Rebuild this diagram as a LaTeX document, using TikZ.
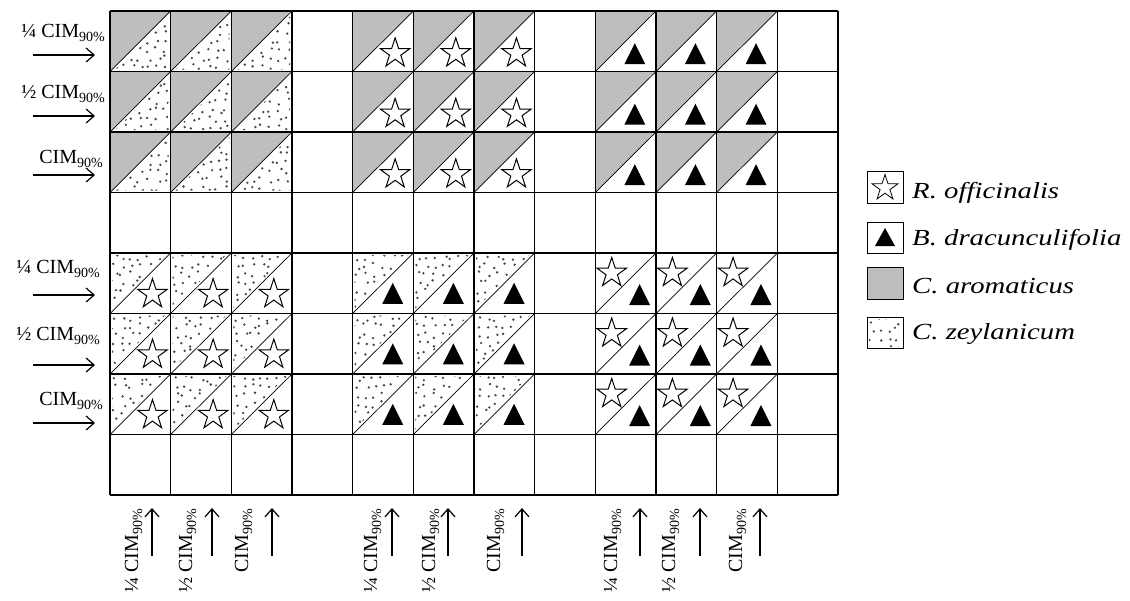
\documentclass[tikz,border=0pt]{standalone}
\usepackage{fontspec}
\setmainfont{Liberation Serif}
\usepackage{graphicx}
\usetikzlibrary{shapes.geometric,arrows.meta}
\definecolor{cellgray}{RGB}{190,190,190}
\definecolor{dotcol}{RGB}{70,70,70}
\newcommand\cellW{60.667}
\newcommand\cellH{60.5}
\newcommand\subp{\raisebox{-4pt}{\fontsize{14}{14}\selectfont 90\%}}
\newcommand\labA{\fontsize{20}{24}\selectfont ¼ CIM\subp}
\newcommand\labB{\fontsize{20}{24}\selectfont ½ CIM\subp}
\newcommand\labC{\fontsize{20}{24}\selectfont CIM\subp}
\newcommand\legtext[1]{\scalebox{1.25}[1]{\fontsize{23}{27}\selectfont\itshape #1}}
% jittered dot field: #1,#2 = top-left, #3 = side, #4 = number of dots per side
\newcommand\dotfield[4]{\foreach \ii in {1,...,#4}{\foreach \jj in {1,...,#4}{%
  \pgfmathsetmacro\dx{#1+(\ii-0.5)*#3/#4+3.2*rand}%
  \pgfmathsetmacro\dy{#2+(\jj-0.5)*#3/#4+3.2*rand}%
  \fill[dotcol] (\dx,\dy) circle (1.3);}}}
\newcommand\dotsUL[2]{\begin{scope}\clip (#1+2,#2+2) -- (#1+\cellW-5,#2+2) -- (#1+2,#2+\cellH-5) -- cycle; \dotfield{#1}{#2}{\cellW}{7}\end{scope}}
\newcommand\dotsLR[2]{\begin{scope}\clip (#1+\cellW-2,#2+5) -- (#1+\cellW-2,#2+\cellH-2) -- (#1+5,#2+\cellH-2) -- cycle; \dotfield{#1}{#2}{\cellW}{7}\end{scope}}
\newcommand\grayUL[2]{\fill[cellgray] (#1,#2) -- (#1+\cellW,#2) -- (#1,#2+\cellH) -- cycle;}
\newcommand\tri[2]{\fill[black] (#1-10.5,#2) -- (#1+10.5,#2) -- (#1,#2-21) -- cycle;}
\tikzset{
  starsym/.style={star, star points=5, star point ratio=2.6, draw=black, line width=1pt, fill=white, inner sep=0pt, minimum size=31pt},
  gridline/.style={line width=1.2pt, black},
  diag/.style={line width=0.7pt, black},
  arr/.style={line width=1.2pt, -{Straight Barb[length=8pt,width=14pt,line width=1.2pt]}},
  lab/.style={inner sep=0pt, anchor=base east},
  vlab/.style={inner sep=0pt, anchor=base east, rotate=90},
  legbox/.style={line width=1pt, black},
  legtxt/.style={inner sep=0pt, anchor=base west}
}
\begin{document}
\begin{tikzpicture}[x=1pt,y=-1pt]
\useasboundingbox (0,0) rectangle (1130,600);
\fill[white] (0,0) rectangle (1130,600);
\pgfmathsetseed{4711}
% ---- top block: rows 1-3
\foreach \c in {0,1,2}{\foreach \r in {0,1,2}{
  \pgfmathsetmacro\L{110+\c*\cellW}\pgfmathsetmacro\T{11+\r*\cellH}
  \grayUL{\L}{\T}
  \dotsLR{\L}{\T}
}}
\foreach \c in {4,5,6}{\foreach \r in {0,1,2}{
  \pgfmathsetmacro\L{110+\c*\cellW}\pgfmathsetmacro\T{11+\r*\cellH}
  \grayUL{\L}{\T}
  \node[starsym] (st\c\r) at (\L+0.7*\cellW,\T+0.7*\cellH) {};
}}
\foreach \c in {8,9,10}{\foreach \r in {0,1,2}{
  \pgfmathsetmacro\L{110+\c*\cellW}\pgfmathsetmacro\T{11+\r*\cellH}
  \grayUL{\L}{\T}
  \tri{\L+0.65*\cellW}{\T+0.88*\cellH}
}}
% ---- bottom block: rows 5-7
\foreach \c in {0,1,2}{\foreach \r in {4,5,6}{
  \pgfmathsetmacro\L{110+\c*\cellW}\pgfmathsetmacro\T{11+\r*\cellH}
  \dotsUL{\L}{\T}
  \node[starsym] (sb\c\r) at (\L+0.7*\cellW,\T+0.68*\cellH) {};
}}
\foreach \c in {4,5,6}{\foreach \r in {4,5,6}{
  \pgfmathsetmacro\L{110+\c*\cellW}\pgfmathsetmacro\T{11+\r*\cellH}
  \dotsUL{\L}{\T}
  \tri{\L+0.66*\cellW}{\T+0.84*\cellH}
}}
\foreach \c in {8,9,10}{\foreach \r in {4,5,6}{
  \pgfmathsetmacro\L{110+\c*\cellW}\pgfmathsetmacro\T{11+\r*\cellH}
  \node[starsym] (sr\c\r) at (\L+0.27*\cellW,\T+0.33*\cellH) {};
  \tri{\L+0.73*\cellW}{\T+0.86*\cellH}
}}
% ---- diagonals
\foreach \c in {0,1,2,4,5,6,8,9,10}{\foreach \r in {0,1,2,4,5,6}{
  \pgfmathsetmacro\L{110+\c*\cellW}\pgfmathsetmacro\T{11+\r*\cellH}
  \draw[diag] (\L,\T+\cellH) -- (\L+\cellW,\T);
}}
% ---- grid
\foreach \i in {0,...,12}{\draw[gridline] (110+\i*\cellW,11) -- (110+\i*\cellW,495);}
\foreach \j in {0,...,8}{\draw[gridline] (110,11+\j*\cellH) -- (838,11+\j*\cellH);}
% ---- left labels and arrows
\node[lab] (l1) at (105,37) {\labA};
\node[lab] (l2) at (105,98) {\labB};
\node[lab] (l3) at (103,163) {\labC};
\node[lab] (l5) at (100,273) {\labA};
\node[lab] (l6) at (100,340) {\labB};
\node[lab] (l7) at (103,405) {\labC};
\foreach \y [count=\n] in {55,116,175,295,365,423}{
  \coordinate (ha\n) at (33,\y); \coordinate (hb\n) at (95,\y);
  \draw[arr] (ha\n) -- (hb\n);
}
% ---- bottom labels and arrows
\node[vlab] (b1) at (138,509) {\labA};
\node[vlab] (b2) at (192,509) {\labB};
\node[vlab] (b3) at (248,509) {\labC};
\node[vlab] (b5) at (377,509) {\labA};
\node[vlab] (b6) at (435,509) {\labB};
\node[vlab] (b7) at (500,509) {\labC};
\node[vlab] (b9) at (617,509) {\labA};
\node[vlab] (b10) at (675,509) {\labB};
\node[vlab] (b11) at (742,509) {\labC};
\foreach \x [count=\n] in {152,212,272,392,448,522,640,700,760}{
  \coordinate (va\n) at (\x,556); \coordinate (vb\n) at (\x,508);
  \draw[arr] (va\n) -- (vb\n);
}
% ---- legend
\draw[legbox] (867,171) rectangle (903,203);
\node[starsym, minimum size=27pt, line width=0.8pt] (lgs) at (885,188) {};
\draw[legbox] (867,222) rectangle (903,253);
\fill[black] (875,246) -- (895,246) -- (885,228) -- cycle;
\fill[cellgray] (867,267) rectangle (903,299);
\draw[legbox] (867,267) rectangle (903,299);
\begin{scope}\clip (869,319) rectangle (901,346); \dotfield{867}{317}{34}{4}\end{scope}
\draw[legbox] (867,317) rectangle (903,348);
\node[legtxt] (t1) at (912,198) {\legtext{R. officinalis}};
\node[legtxt] (t2) at (912,245) {\legtext{B. dracunculifolia}};
\node[legtxt] (t3) at (912,293) {\legtext{C. aromaticus}};
\node[legtxt] (t4) at (912,339) {\legtext{C. zeylanicum}};
\end{tikzpicture}
\end{document}
